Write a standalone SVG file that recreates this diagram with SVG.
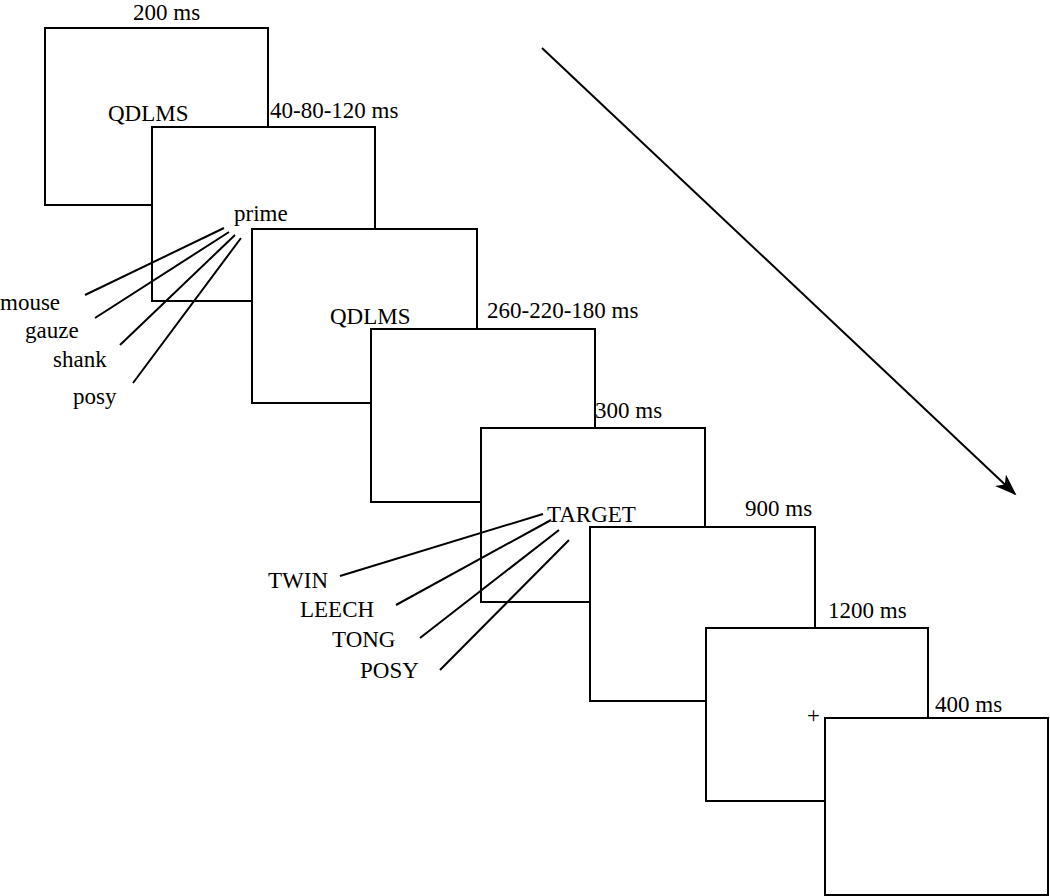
<svg xmlns="http://www.w3.org/2000/svg" width="1050" height="896" viewBox="0 0 1050 896">
<style>
.f{fill:#fff;stroke:#000;stroke-width:2}
text{font-family:"Liberation Serif",serif;font-size:23px;fill:#000}
.l{stroke:#000;stroke-width:2;fill:none}
</style>
<defs><marker id="a" markerWidth="24" markerHeight="16" refX="20" refY="8" orient="auto" markerUnits="userSpaceOnUse"><path d="M0,0 L22,8 L0,16 L6,8 Z" fill="#000"/></marker></defs>
<rect width="1050" height="896" fill="#fff"/>
<g id="f1"><rect class="f" x="45" y="28" width="223" height="177"/><text x="133" y="20">200 ms</text><text x="108" y="121">QDLMS</text></g>
<g id="f2"><rect class="f" x="152" y="127" width="223" height="174"/><text x="270" y="118">40-80-120 ms</text><text x="234" y="221">prime</text></g>
<g id="f3"><rect class="f" x="252" y="229" width="225" height="174"/><text x="330" y="324">QDLMS</text><text x="487" y="318">260-220-180 ms</text></g>
<g id="f4"><rect class="f" x="371" y="329" width="224" height="173"/><text x="595" y="418">300 ms</text></g>
<g id="f5"><rect class="f" x="481" y="428" width="224" height="174"/><text x="547" y="522">TARGET</text><text x="745" y="516">900 ms</text></g>
<g id="f6"><rect class="f" x="590" y="527" width="225" height="174"/><text x="828" y="618">1200 ms</text></g>
<g id="f7"><rect class="f" x="706" y="628" width="222" height="173"/><text x="807" y="723">+</text><text x="935" y="712">400 ms</text></g>
<g id="f8"><rect class="f" x="825" y="718" width="223" height="177"/></g>
<g id="labels"><text x="0" y="310">mouse</text><text x="25" y="338">gauze</text><text x="53" y="367">shank</text><text x="73" y="404">posy</text>
<text x="268" y="588">TWIN</text><text x="300" y="617">LEECH</text><text x="332" y="647">TONG</text><text x="360" y="678">POSY</text></g>
<g id="connectors">
<path class="l" d="M224,228 L85,295 M229,232 L95,318 M235,235 L120,345 M241,238 L133,383"/>
<path class="l" d="M543,514 L340,576 M551,520 L396,605 M559,530 L420,638 M569,540 L440,670"/>
<path class="l" d="M542,48 L1015,494" marker-end="url(#a)"/>
</g>
</svg>
